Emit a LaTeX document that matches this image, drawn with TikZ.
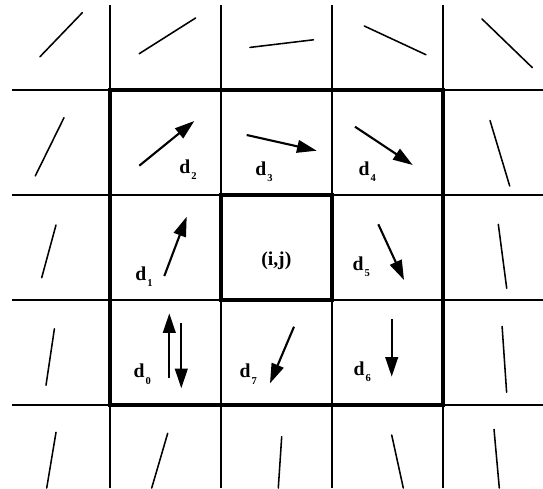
\documentclass[tikz,border=0pt]{standalone}
\usepackage{fontspec}
\setmainfont{Liberation Serif}
\usetikzlibrary{arrows.meta}
\newcommand{\dlab}[1]{d\hspace{0.8pt}\raisebox{-4.6pt}{\fontsize{7.5}{7.5}\selectfont #1}}

\begin{document}
\begin{tikzpicture}[x=0.025cm,y=-0.025cm]

\tikzset{
gridline/.style={
line width=1.4pt
},
blockline/.style={
line width=3.3pt
},
orient/.style={
line width=1.1pt,
line cap=round
},
flowarrow/.style={
line width=1.5pt,
-{Triangle[length=14pt,width=9pt]}
},
dirlabel/.style={
anchor=base west,
inner sep=0pt,
font=\fontsize{14}{14}\selectfont\bfseries
}
}

\useasboundingbox (0,0) rectangle (543,488);

%--------------------------------------------------
% GRID
%--------------------------------------------------

\foreach \gx in {110,221,332,443} {
  \draw[gridline] (\gx,5) -- (\gx,488);
}
\foreach \gy in {90,195,300,405} {
  \draw[gridline] (12,\gy) -- (543,\gy);
}

\draw[blockline] (110,90) rectangle (443,405);
\draw[blockline] (221,195) rectangle (332,300);

%--------------------------------------------------
% ORIENTATION FIELD (OUTER RING)
%--------------------------------------------------

% top row
\draw[orient] (40,56.7) -- (82.3,12.7);
\draw[orient] (139.2,53.7) -- (195.6,18);
\draw[orient] (250,47.4) -- (313.4,39.8);
\draw[orient] (364.3,26) -- (425.9,54.7);
\draw[orient] (482,19) -- (532.2,67.5);

% left column
\draw[orient] (64,117.7) -- (35.3,175.9);
\draw[orient] (56,225) -- (41.7,277.7);
\draw[orient] (54.4,328.8) -- (46,385.2);

% right column
\draw[orient] (490,120.5) -- (509.7,186);
\draw[orient] (498.3,224.3) -- (506.7,288.3);
\draw[orient] (502.1,326.4) -- (506.6,392.2);

% bottom row
\draw[orient] (56,432.3) -- (46.7,488);
\draw[orient] (167.7,433.3) -- (151.7,488);
\draw[orient] (281.7,436.7) -- (278.3,488);
\draw[orient] (391.7,435) -- (403.3,488);
\draw[orient] (494,429.3) -- (499.3,488);

%--------------------------------------------------
% DIRECTIONS (INNER RING)
%--------------------------------------------------

\draw[flowarrow] (139.3,165.7) -- (194.3,121);
\draw[flowarrow] (246.7,135) -- (316.7,150.7);
\draw[flowarrow] (355,126.7) -- (412.7,165);
\draw[flowarrow] (164.3,276) -- (186.7,216.7);
\draw[flowarrow] (378.3,224.3) -- (404,280);
\draw[flowarrow] (169.3,378.3) -- (169.3,313.3);
\draw[flowarrow] (181.3,323.3) -- (181.3,388.3);
\draw[flowarrow] (294,326.7) -- (270,383.3);
\draw[flowarrow] (391.7,319.3) -- (391.7,376.7);

\node[dirlabel] (d2) at (179,173.3) {\dlab{2}};
\node[dirlabel] (d3) at (255,175) {\dlab{3}};
\node[dirlabel] (d4) at (358.3,175) {\dlab{4}};
\node[dirlabel] (d1) at (135,280) {\dlab{1}};
\node[dirlabel, anchor=base] (cell) at (276.3,265) {(i,j)};
\node[dirlabel] (d5) at (352.3,270) {\dlab{5}};
\node[dirlabel] (d0) at (133.3,377.7) {\dlab{0}};
\node[dirlabel] (d7) at (239.3,377.7) {\dlab{7}};
\node[dirlabel] (d6) at (353.3,375) {\dlab{6}};

\end{tikzpicture}
\end{document}
